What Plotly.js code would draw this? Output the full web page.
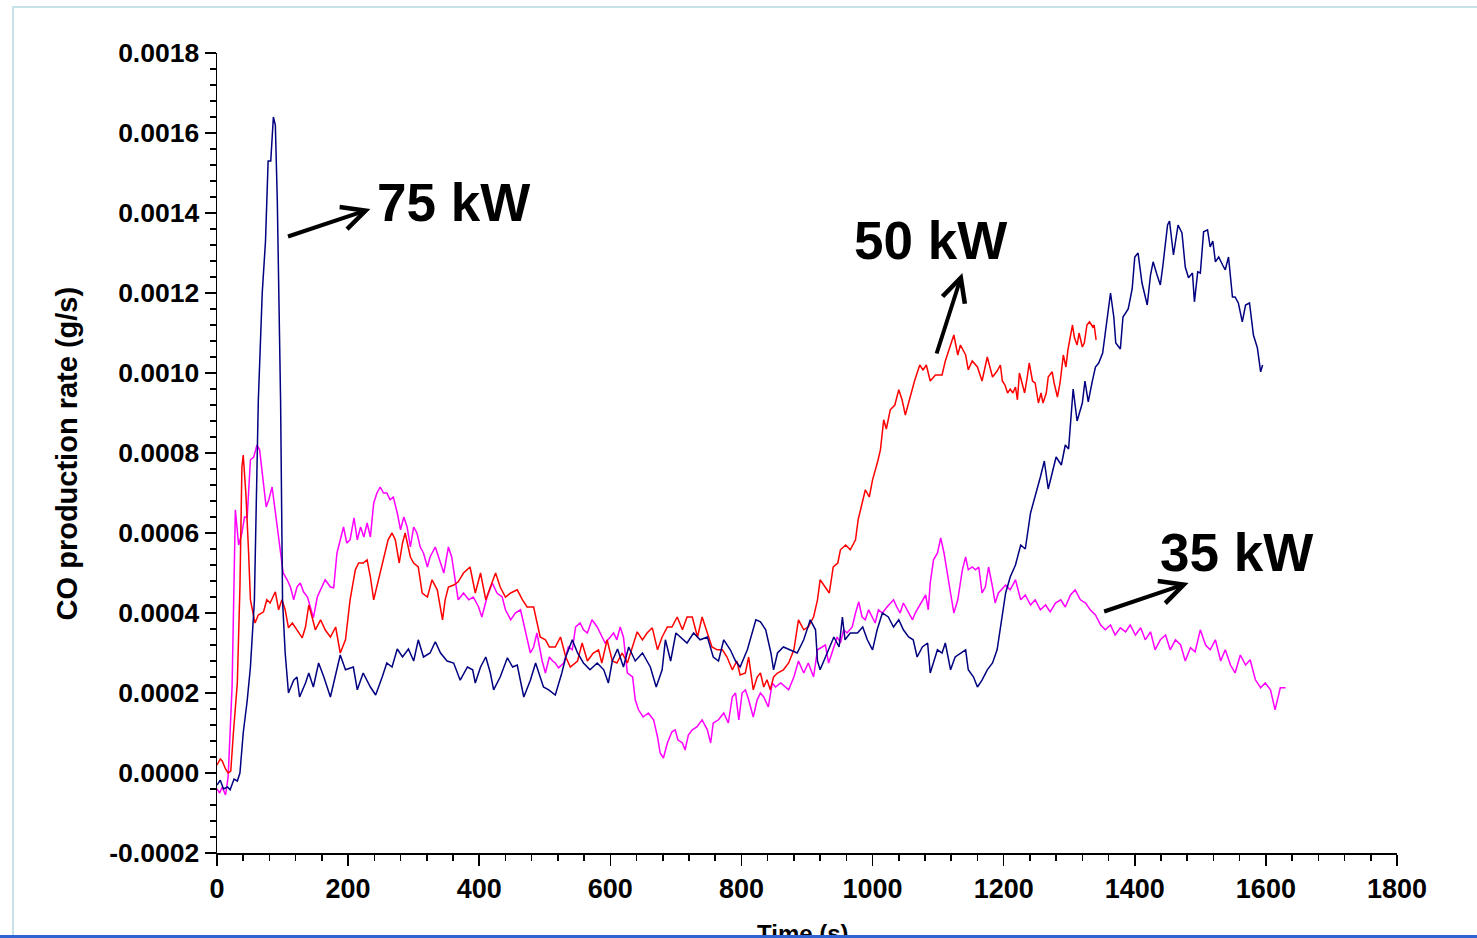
<!DOCTYPE html>
<html>
<head>
<meta charset="utf-8">
<script src="https://cdn.plot.ly/plotly-3.0.1.min.js"></script>
<style>
html,body{margin:0;padding:0;background:#fff;overflow:hidden;}
#wrap{position:relative;width:1477px;height:938px;}
#chart{position:absolute;left:0;top:0;width:1477px;height:938px;}
#frameL{position:absolute;left:12px;top:6px;width:2px;height:932px;background:#c6e4e8;z-index:5;}
#frameT{position:absolute;left:12px;top:6px;width:1465px;height:2px;background:#c6e4e8;z-index:5;}
#frameB{position:absolute;left:0;top:935px;width:1477px;height:3px;background:#2f62d2;z-index:5;}
</style>
</head>
<body>
<div id="wrap">
<div id="chart"></div>
<div id="frameL"></div><div id="frameT"></div><div id="frameB"></div>
</div>
<script>
// ---- Data (time in s, CO production rate in g/s) ----
const time75 = [0,5,10,16,20,26,31,35,40,46,51,57,63,69,74,76,78,82,86,89,92,97,100,104,109,117,122,126,135,140,147,155,163,173,181,188,196,208,214,223,234,242,252,259,267,275,283,292,300,307,315,325,333,341,351,361,371,382,390,394,402,410,417,422,432,443,451,458,468,478,486,498,506,516,526,532,542,550,559,569,580,590,597,603,611,620,628,638,649,661,670,679,684,692,700,707,717,727,737,748,757,765,773,783,791,798,809,822,829,837,845,849,855,864,875,885,895,905,913,916,920,931,941,949,954,958,966,977,985,992,1000,1007,1015,1024,1032,1040,1047,1055,1062,1068,1076,1084,1088,1099,1106,1111,1119,1126,1134,1142,1146,1154,1160,1167,1175,1183,1190,1195,1203,1210,1218,1226,1233,1241,1248,1256,1262,1268,1274,1280,1288,1294,1299,1306,1312,1320,1324,1329,1335,1340,1345,1351,1355,1363,1368,1371,1378,1382,1390,1396,1400,1405,1411,1419,1424,1428,1434,1439,1443,1450,1453,1459,1466,1472,1477,1482,1488,1491,1496,1500,1505,1511,1515,1519,1523,1528,1534,1538,1543,1549,1553,1558,1564,1569,1575,1581,1587,1592,1595];
const co75 = [-0.00003,-0.000018,-0.00004,-0.000035,-0.000042,-0.000015,-0.00002,0.0,0.0001,0.00018,0.000265,0.00043,0.00093,0.0012,0.00133,0.00143,0.00153,0.00153,0.00164,0.00162,0.00143,0.00093,0.00043,0.0003,0.0002,0.000232,0.00024,0.00019,0.000225,0.00025,0.000215,0.000275,0.00024,0.00019,0.00025,0.000295,0.000258,0.000265,0.000208,0.00025,0.000215,0.000195,0.00024,0.000275,0.000265,0.00031,0.00029,0.00031,0.00028,0.000333,0.00029,0.0003,0.000328,0.0003,0.00028,0.000275,0.000232,0.000265,0.000258,0.000225,0.000265,0.00029,0.00025,0.000208,0.00024,0.000288,0.000265,0.00027,0.00019,0.000232,0.000275,0.000215,0.000208,0.000195,0.00025,0.00029,0.000333,0.0003,0.000275,0.000258,0.000275,0.000258,0.000225,0.00028,0.00031,0.000265,0.000315,0.00028,0.0003,0.000265,0.000215,0.000258,0.000333,0.00028,0.00035,0.00034,0.000325,0.00035,0.000333,0.00034,0.00029,0.00028,0.000333,0.000308,0.00028,0.000265,0.000308,0.000383,0.000378,0.000358,0.0003,0.000258,0.0003,0.000315,0.000308,0.0003,0.000333,0.000383,0.000358,0.00028,0.000258,0.0003,0.00034,0.000315,0.00039,0.000333,0.00035,0.00035,0.000365,0.000333,0.000308,0.000358,0.0004,0.00039,0.000365,0.000383,0.000358,0.00034,0.000333,0.00029,0.000315,0.000325,0.00025,0.000308,0.0003,0.000325,0.000258,0.00029,0.0003,0.000308,0.000258,0.00024,0.000215,0.000232,0.000258,0.000275,0.000308,0.000365,0.00045,0.00049,0.00052,0.00057,0.00056,0.00065,0.00069,0.00074,0.00078,0.00071,0.00075,0.00079,0.00077,0.00082,0.00081,0.00096,0.00088,0.000925,0.00098,0.000928,0.000978,0.001015,0.001025,0.00105,0.0011,0.0012,0.00114,0.001075,0.00106,0.00114,0.00116,0.00121,0.00129,0.0013,0.001225,0.00117,0.001245,0.001278,0.001245,0.00122,0.00127,0.00137,0.00138,0.001295,0.00137,0.00135,0.001265,0.001238,0.00125,0.001178,0.001253,0.00125,0.001353,0.001358,0.001315,0.00133,0.001278,0.00129,0.00127,0.001258,0.00129,0.00119,0.00119,0.001175,0.001128,0.00117,0.001175,0.001095,0.001063,0.001003,0.00102];

const time50 = [0,5,8,13,17,21,25,31,35,38,40,44,48,51,58,63,71,76,81,89,94,99,104,109,115,122,130,135,140,145,150,158,165,173,181,188,196,203,211,216,223,229,234,239,246,254,261,267,272,278,283,287,292,295,300,307,313,321,328,336,344,348,353,361,368,376,386,394,402,410,417,425,432,440,448,458,466,473,483,488,493,501,507,516,524,532,539,550,557,565,574,582,587,595,603,610,618,626,634,641,649,656,664,672,679,687,694,702,710,717,725,733,740,748,755,763,771,778,786,793,798,806,811,818,824,829,834,839,844,849,855,864,872,880,887,895,902,910,916,920,928,934,940,947,951,959,966,974,978,985,989,995,1000,1008,1012,1017,1021,1027,1034,1040,1045,1050,1058,1064,1072,1077,1082,1088,1096,1106,1111,1119,1124,1130,1134,1142,1146,1152,1160,1167,1175,1183,1190,1195,1198,1202,1206,1210,1214,1218,1221,1224,1228,1232,1236,1239,1244,1248,1251,1253,1257,1260,1265,1268,1274,1277,1282,1286,1291,1295,1298,1305,1308,1312,1315,1320,1323,1327,1331,1336,1338,1341];
const co50 = [0.00002,0.000035,0.00003,0.00001,0.0,0.000005,0.0001,0.000225,0.000465,0.000765,0.000795,0.0007,0.000558,0.000433,0.000375,0.000395,0.000403,0.000433,0.000425,0.000453,0.000408,0.000433,0.000408,0.000363,0.000375,0.000358,0.000338,0.000365,0.00042,0.00039,0.000358,0.000383,0.000358,0.00034,0.000365,0.0003,0.000333,0.000433,0.000508,0.000525,0.000525,0.000533,0.00049,0.000433,0.000483,0.00054,0.000583,0.0006,0.000583,0.000525,0.000575,0.0006,0.000565,0.00054,0.000525,0.000515,0.00045,0.00044,0.000483,0.000458,0.000383,0.000433,0.000465,0.00047,0.000478,0.0005,0.000515,0.00045,0.0005,0.000433,0.000465,0.0005,0.000465,0.00044,0.00045,0.000458,0.000433,0.000415,0.000415,0.000375,0.00034,0.000333,0.000315,0.000315,0.00034,0.00029,0.000265,0.00028,0.000325,0.00028,0.0003,0.000308,0.000275,0.000333,0.00028,0.000275,0.0003,0.000275,0.000315,0.000353,0.000333,0.00035,0.000363,0.000308,0.00034,0.000365,0.000365,0.00039,0.000358,0.00039,0.00039,0.00034,0.00039,0.00035,0.000315,0.000308,0.000308,0.00029,0.000258,0.00028,0.000245,0.00025,0.00029,0.000208,0.00024,0.00025,0.000215,0.000233,0.000208,0.00024,0.00025,0.000258,0.000275,0.000308,0.000383,0.000358,0.000365,0.00039,0.000433,0.000483,0.000465,0.00045,0.000515,0.000525,0.000558,0.00057,0.000558,0.000583,0.000633,0.00068,0.000708,0.00069,0.000733,0.00078,0.000808,0.000883,0.00086,0.000908,0.00092,0.000958,0.000933,0.000895,0.000945,0.00098,0.00102,0.001008,0.00102,0.00098,0.000995,0.000995,0.00103,0.00107,0.001095,0.001045,0.00107,0.001045,0.001008,0.00103,0.001015,0.00098,0.00104,0.00099,0.001005,0.00102,0.00098,0.00097,0.00095,0.00096,0.00095,0.000965,0.000933,0.001,0.000978,0.00095,0.00099,0.001025,0.00098,0.000975,0.000945,0.000925,0.00095,0.000925,0.00095,0.00099,0.001003,0.000975,0.00094,0.000975,0.001045,0.001015,0.001058,0.00112,0.001088,0.00107,0.0011,0.001065,0.001075,0.00112,0.001128,0.001115,0.00112,0.001083];

const time35 = [0,4,8,13,17,23,28,33,38,42,46,51,56,61,65,71,75,79,84,88,92,97,101,107,112,117,122,127,132,138,142,147,153,158,165,173,178,183,188,193,198,203,209,214,219,224,229,234,239,244,249,254,259,264,269,275,280,285,290,295,300,305,310,315,321,325,333,338,346,353,358,364,368,376,384,391,399,404,412,420,427,435,440,448,455,463,470,478,483,488,496,501,507,512,516,521,529,536,542,547,554,559,565,572,580,587,592,600,605,610,615,620,626,634,638,643,650,658,666,672,676,681,687,694,699,703,710,714,719,725,732,740,748,753,757,765,773,780,786,791,796,801,806,811,818,824,829,834,841,847,852,860,867,872,880,887,895,902,910,916,923,928,933,938,946,951,956,961,969,974,979,984,989,994,999,1004,1009,1015,1022,1027,1032,1037,1042,1047,1055,1061,1065,1070,1076,1081,1085,1088,1093,1099,1104,1109,1119,1124,1130,1137,1142,1146,1152,1157,1162,1167,1172,1177,1183,1187,1192,1197,1203,1210,1218,1226,1233,1241,1248,1256,1264,1271,1279,1287,1294,1302,1309,1317,1325,1332,1340,1348,1355,1363,1370,1378,1386,1393,1401,1409,1416,1424,1431,1439,1447,1454,1462,1470,1477,1485,1492,1500,1508,1515,1523,1531,1538,1546,1553,1561,1569,1576,1584,1592,1599,1607,1614,1622,1630];
const co35 = [-0.00004,-0.00005,-0.000035,-0.000055,-0.00001,0.000215,0.000658,0.00057,0.0006,0.00064,0.000638,0.000783,0.00079,0.00082,0.000808,0.000725,0.000665,0.000683,0.000715,0.000665,0.000615,0.000558,0.0005,0.000483,0.000465,0.000433,0.000465,0.000475,0.000453,0.00044,0.000415,0.000388,0.00044,0.000458,0.000483,0.000465,0.000463,0.00055,0.000583,0.000615,0.000575,0.000583,0.000638,0.000583,0.000615,0.00059,0.000625,0.00059,0.000675,0.0007,0.000715,0.0007,0.0007,0.000683,0.00069,0.00065,0.000608,0.00064,0.000615,0.000565,0.000615,0.0006,0.000565,0.00055,0.000515,0.00054,0.000565,0.00054,0.0005,0.000565,0.00054,0.000475,0.000433,0.00045,0.000433,0.00044,0.000415,0.00039,0.00044,0.000475,0.00045,0.00044,0.000408,0.000383,0.0004,0.000408,0.000358,0.0003,0.000315,0.00035,0.00028,0.00025,0.00029,0.00028,0.000275,0.000263,0.000275,0.000315,0.000308,0.000365,0.000375,0.000358,0.00035,0.000383,0.000365,0.00034,0.000325,0.00034,0.00035,0.000333,0.000365,0.00034,0.00025,0.00024,0.000183,0.000158,0.00014,0.00015,0.000133,0.00009,0.00005,0.0000375,0.000075,0.000103,0.000108,0.000083,0.000075,0.0000575,0.000095,0.000108,0.000115,0.000133,0.000108,0.000075,0.000125,0.000133,0.00015,0.000125,0.00019,0.0002,0.000133,0.0002,0.000208,0.000183,0.00014,0.000183,0.0002,0.00019,0.000165,0.000225,0.000215,0.000225,0.000215,0.000208,0.00024,0.00028,0.00025,0.000275,0.00024,0.000308,0.000315,0.00032,0.000275,0.0003,0.00034,0.000325,0.000358,0.00035,0.000365,0.0004,0.000428,0.00039,0.000383,0.000408,0.00039,0.000375,0.000408,0.0004,0.000415,0.000425,0.000433,0.000415,0.0004,0.000425,0.0004,0.000383,0.0004,0.000415,0.000433,0.000445,0.000408,0.000475,0.000533,0.00055,0.000588,0.00055,0.00045,0.0004,0.000433,0.000508,0.00054,0.000508,0.000515,0.000508,0.000515,0.00045,0.000465,0.000515,0.000465,0.000425,0.00045,0.000458,0.00047,0.000458,0.000483,0.000433,0.000445,0.00042,0.000433,0.000408,0.00042,0.000403,0.000425,0.000433,0.000415,0.000445,0.000458,0.000433,0.000425,0.000408,0.000395,0.00037,0.000358,0.00037,0.000345,0.000363,0.000353,0.00037,0.000345,0.000363,0.000333,0.000353,0.000308,0.000333,0.000345,0.000308,0.000333,0.00032,0.00028,0.000313,0.000303,0.000358,0.00032,0.000308,0.000333,0.00028,0.000308,0.00027,0.00025,0.000295,0.00027,0.000283,0.000233,0.000213,0.000225,0.000208,0.000158,0.000213,0.000213];

const xTickVals = [0,200,400,600,800,1000,1200,1400,1600,1800];
const xTickLabels = ['0','200','400','600','800','1000','1200','1400','1600','1800'];
const yTickVals = [-0.0002,0,0.0002,0.0004,0.0006,0.0008,0.0010,0.0012,0.0014,0.0016,0.0018];
const yTickLabels = ['-0.0002','0.0000','0.0002','0.0004','0.0006','0.0008','0.0010','0.0012','0.0014','0.0016','0.0018'];
const seriesNames = ['75 kW','50 kW','35 kW'];
const xTitle = 'Time (s)';
const yTitle = 'CO production rate (g/s)';

// ---- Figure ----
const FONT = 'Liberation Sans, Arial, sans-serif';
const traces = [
  {x: time35, y: co35, name: seriesNames[2], type:'scatter', mode:'lines', line:{color:'#ff00ff', width:1.5}},
  {x: time50, y: co50, name: seriesNames[1], type:'scatter', mode:'lines', line:{color:'#ff0000', width:1.5}},
  {x: time75, y: co75, name: seriesNames[0], type:'scatter', mode:'lines', line:{color:'#000080', width:1.5}}
];

const axisCommon = {
  showline:true, linecolor:'black', linewidth:1.5, mirror:false,
  ticks:'outside', ticklen:11, tickwidth:1.5, tickcolor:'black',
  showgrid:false, zeroline:false, tickmode:'array'
};

const bigFont = {family: FONT, size: 53, color:'black', weight:'bold'};
const arrowCommon = {text:'', showarrow:true, arrowhead:5, arrowsize:1.15, arrowwidth:4, arrowcolor:'black', xref:'x', yref:'y', axref:'x', ayref:'y', standoff:0, startstandoff:0};

const layout = {
  width:1477, height:938,
  margin:{l:217, r:80, t:53, b:85, pad:0},
  paper_bgcolor:'white', plot_bgcolor:'white',
  showlegend:false,
  xaxis: Object.assign({}, axisCommon, {
    range:[0,1800], tickvals:xTickVals, ticktext:xTickLabels,
    tickfont:{family:FONT, size:27, color:'black', weight:'bold'},
    minor:{tickmode:'linear', tick0:0, dtick:40, ticks:'outside', ticklen:6, tickwidth:1.5, tickcolor:'black', showgrid:false}
  }),
  yaxis: Object.assign({}, axisCommon, {
    range:[-0.0002,0.0018], tickvals:yTickVals, ticktext:yTickLabels,
    tickfont:{family:FONT, size:26.5, color:'black', weight:'bold'},
    minor:{tickmode:'linear', tick0:-0.0002, dtick:0.00004, ticks:'outside', ticklen:6, tickwidth:1.5, tickcolor:'black', showgrid:false}
  }),
  annotations:[
    {text:yTitle, xref:'paper', yref:'paper', x:-0.1268, y:0.5, textangle:-90, showarrow:false,
     xanchor:'center', yanchor:'middle', font:{family:FONT, size:29, color:'black', weight:'bold'}},
    {text:xTitle, xref:'paper', yref:'paper', x:0.497, y:-0.1, showarrow:false,
     xanchor:'center', yanchor:'middle', font:{family:FONT, size:24, color:'black', weight:'bold'}},
    {text:seriesNames[0], xref:'x', yref:'y', x:361, y:0.0014275, showarrow:false, xanchor:'center', yanchor:'middle', font:bigFont},
    {text:seriesNames[1], xref:'x', yref:'y', x:1088, y:0.0013325, showarrow:false, xanchor:'center', yanchor:'middle', font:bigFont},
    {text:seriesNames[2], xref:'x', yref:'y', x:1555, y:0.0005525, showarrow:false, xanchor:'center', yanchor:'middle', font:bigFont},
    Object.assign({}, arrowCommon, {x:234, y:0.00141, ax:106, ay:0.00134}),
    Object.assign({}, arrowCommon, {x:1137, y:0.00125, ax:1097, ay:0.001045}),
    Object.assign({}, arrowCommon, {x:1482, y:0.000475, ax:1351, ay:0.0004025})
  ]
};

Plotly.newPlot('chart', traces, layout, {staticPlot:true, displayModeBar:false});
</script>
</body>
</html>
